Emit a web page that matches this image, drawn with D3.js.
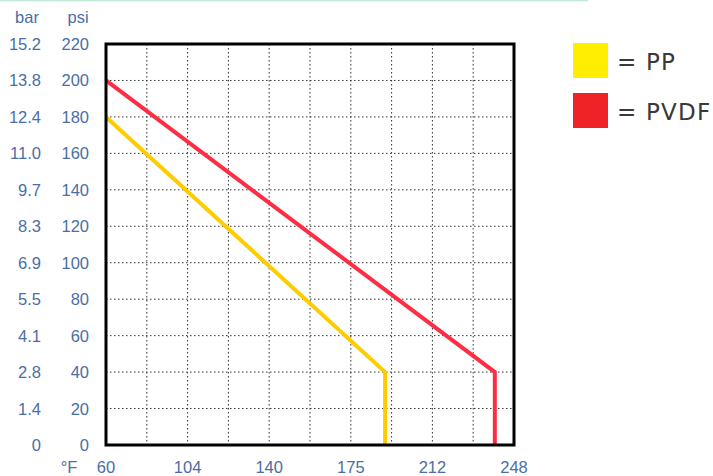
<!DOCTYPE html>
<html>
<head>
<meta charset="utf-8">
<script src="https://cdn.jsdelivr.net/npm/d3@7"></script>
<style>
  body { margin: 0; background: #fff; }
  svg text { font-family: "Liberation Sans", Arial, sans-serif; }
</style>
</head>
<body>
<div id="chart"></div>
<script>
// temperature in degC (grid runs 20..120 degC), labels show degF
const xTicks = [20, 40, 60, 80, 100, 120];
const xLabels = ["60", "104", "140", "175", "212", "248"];
const psiTicks = [0, 20, 40, 60, 80, 100, 120, 140, 160, 180, 200, 220];
const barLabels = ["0", "1.4", "2.8", "4.1", "5.5", "6.9", "8.3", "9.7", "11.0", "12.4", "13.8", "15.2"];
const seriesNames = ["PP", "PVDF"];
const ppTemp = [20, 88.4, 88.4];
const ppPsi = [180, 40, 0];
const pvdfTemp = [20, 115.3, 115.3];
const pvdfPsi = [200, 40, 0];

const W = 713, H = 476;
const plot = {left: 106, right: 514, top: 44, bottom: 445};

let svg = d3.select("#chart").append("svg")
    .attr("width", W)
    .attr("height", H);

svg.append("line")
    .attr("x1", 0).attr("x2", 588).attr("y1", 0.5).attr("y2", 0.5)
    .attr("stroke", "#bfe9d6").attr("stroke-width", 1.5);

let x = d3.scaleLinear().domain([20, 120]).range([plot.left, plot.right]);
let y = d3.scaleLinear().domain([0, 220]).range([plot.bottom, plot.top]);

// grid
let grid = svg.append("g");
grid.selectAll(".vg")
    .data(d3.range(30, 120, 10))
    .join("line")
    .attr("x1", d => x(d)).attr("x2", d => x(d))
    .attr("y1", plot.top).attr("y2", plot.bottom)
    .attr("stroke", "#333").attr("stroke-width", 1)
    .attr("stroke-dasharray", "1.5,2.5");
grid.selectAll(".hg")
    .data(psiTicks.slice(1, -1))
    .join("line")
    .attr("x1", plot.left).attr("x2", plot.right)
    .attr("y1", d => y(d)).attr("y2", d => y(d))
    .attr("stroke", "#333").attr("stroke-width", 1)
    .attr("stroke-dasharray", "1.5,2.5");

// lines
let line = d3.line().x(d => x(d[0])).y(d => y(d[1]));
const series = [
    {name: "PP", pts: d3.zip(ppTemp, ppPsi), color: "#ffcc00"},
    {name: "PVDF", pts: d3.zip(pvdfTemp, pvdfPsi), color: "#ff2d44"}
];
svg.selectAll(".ln")
    .data(series)
    .join("path")
    .attr("d", d => line(d.pts))
    .attr("fill", "none")
    .attr("stroke", d => d.color)
    .attr("stroke-width", 4);

// frame
svg.append("rect")
    .attr("x", plot.left).attr("y", plot.top)
    .attr("width", plot.right - plot.left)
    .attr("height", plot.bottom - plot.top)
    .attr("fill", "none")
    .attr("stroke", "#000").attr("stroke-width", 3);

// y labels
const labCol = "#4a6ea5";
const fs = 16.5;
svg.selectAll(".psi")
    .data(psiTicks)
    .join("text")
    .attr("x", 89).attr("y", d => y(d) + 6)
    .attr("text-anchor", "end")
    .attr("fill", labCol).attr("font-size", fs)
    .text(d => d);
svg.selectAll(".bar")
    .data(barLabels)
    .join("text")
    .attr("x", 41).attr("y", (d, i) => y(psiTicks[i]) + 6)
    .attr("text-anchor", "end")
    .attr("fill", labCol).attr("font-size", fs)
    .text(d => d);
svg.append("text").attr("x", 27).attr("y", 23).attr("text-anchor", "middle")
    .attr("fill", labCol).attr("font-size", fs).text("bar");
svg.append("text").attr("x", 78).attr("y", 23).attr("text-anchor", "middle")
    .attr("fill", labCol).attr("font-size", fs).text("psi");

// x labels
svg.selectAll(".xl")
    .data(xTicks)
    .join("text")
    .attr("x", d => x(d)).attr("y", 473)
    .attr("text-anchor", "middle")
    .attr("fill", labCol).attr("font-size", fs)
    .text((d, i) => xLabels[i]);
svg.append("text").attr("x", 69).attr("y", 473).attr("text-anchor", "middle")
    .attr("fill", labCol).attr("font-size", fs).text("°F");

// legend
const legCol = ["#ffee00", "#ee2227"];
let leg = svg.selectAll(".leg")
    .data(seriesNames)
    .join("g")
    .attr("transform", (d, i) => `translate(573, ${43 + i * 50})`);
leg.append("rect")
    .attr("width", 35).attr("height", 35)
    .attr("fill", (d, i) => legCol[i]);
leg.append("text")
    .attr("x", 44).attr("y", 27)
    .attr("fill", "#3a3a3a").attr("font-size", 23)
    .attr("letter-spacing", 1.2)
    .style("font-family", "'DejaVu Sans', sans-serif")
    .text(d => "= " + d);
</script>
</body>
</html>
